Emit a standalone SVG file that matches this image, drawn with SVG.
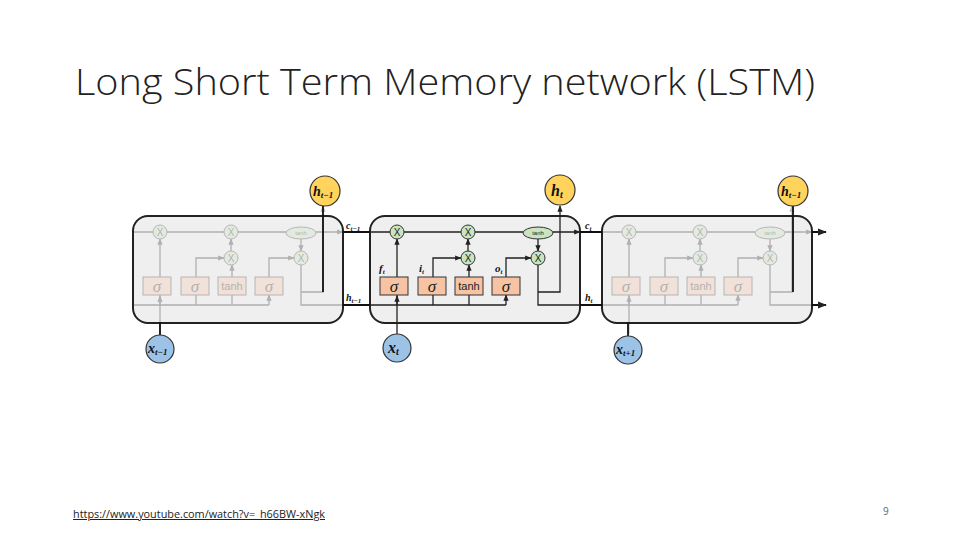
<svg xmlns="http://www.w3.org/2000/svg" xmlns:xlink="http://www.w3.org/1999/xlink" width="960" height="540" viewBox="0 0 960 540">
<style>
.cell{fill:#efefef;stroke:#222;stroke-width:2}
.ln{fill:none;stroke:#222;stroke-width:1.3}
.bold{fill:none;stroke:#111;stroke-width:1.8}
.x{fill:#c9e4bf;stroke:#333;stroke-width:1}
.gate{fill:#f6c4a4;stroke:#333;stroke-width:1}
.xt{font-family:"Liberation Sans",sans-serif;font-size:10px;fill:#222}
.sig{font-family:"Liberation Serif",serif;font-style:italic;font-size:17px;fill:#222}
.th{font-family:"Liberation Sans",sans-serif;font-size:11px;fill:#222}
.m{font-family:"Liberation Serif",serif;font-style:italic;font-weight:bold;fill:#111}
.h{fill:#ffd35c;stroke:#333;stroke-width:1.2}
.in{fill:#9cc3e6;stroke:#333;stroke-width:1.2}
</style>
<defs>
<marker id="a" viewBox="0 0 10 10" refX="9" refY="5" markerWidth="5" markerHeight="5" orient="auto"><path d="M0 1L10 5L0 9z" fill="#222"/></marker>
<g id="inner">
<path class="ln" d="M0 232H20M34 232H91M105 232H153M183 232H210" marker-end="url(#a)"/>
<path class="ln" d="M27 277V239" marker-end="url(#a)"/>
<path class="ln" d="M63 277V258H91" marker-end="url(#a)"/>
<path class="ln" d="M99 277V265" marker-end="url(#a)"/>
<path class="ln" d="M98 251V239" marker-end="url(#a)"/>
<path class="ln" d="M136 277V258H161" marker-end="url(#a)"/>
<path class="ln" d="M168 238V251" marker-end="url(#a)"/>
<path class="ln" d="M168 265V305H210M168 292H190V206" marker-end="url(#a)"/>
<path class="ln" d="M0 305H136M27 305V295M63 305V295M99 305V295M136 305V295" marker-end="url(#a)"/>
<path class="ln" d="M27 334V296" marker-end="url(#a)"/>
<circle class="x" cx="27" cy="232" r="7"/><text class="xt" x="27" y="236" text-anchor="middle">X</text>
<circle class="x" cx="98" cy="232" r="7"/><text class="xt" x="98" y="236" text-anchor="middle">X</text>
<ellipse class="x" cx="168" cy="233" rx="15" ry="6"/><text x="168" y="235" text-anchor="middle" style="font-family:'Liberation Sans',sans-serif;font-size:6px;fill:#222">tanh</text>
<circle class="x" cx="98" cy="258" r="7"/><text class="xt" x="98" y="262" text-anchor="middle">X</text>
<circle class="x" cx="168" cy="258" r="7"/><text class="xt" x="168" y="262" text-anchor="middle">X</text>
<rect class="gate" x="10" y="277" width="28" height="18"/><text class="sig" x="24" y="292" text-anchor="middle">σ</text>
<rect class="gate" x="48" y="277" width="28" height="18"/><text class="sig" x="62" y="292" text-anchor="middle">σ</text>
<rect class="gate" x="85" y="277" width="28" height="18"/><text class="th" x="99" y="290" text-anchor="middle">tanh</text>
<rect class="gate" x="122" y="277" width="28" height="18"/><text class="sig" x="136" y="292" text-anchor="middle">σ</text>
</g>
</defs>
<text x="75" y="95" textLength="740" lengthAdjust="spacingAndGlyphs" style="font-family:'Open Sans',sans-serif;font-size:36px;font-weight:300;fill:#222">Long Short Term Memory network (LSTM)</text>

<g id="cell-left">
<rect class="cell" x="133" y="216" width="210" height="107" rx="15"/>
<use xlink:href="#inner" href="#inner" x="133" opacity="0.3"/>
</g>
<g id="cell-mid">
<rect class="cell" x="370" y="216" width="210" height="107" rx="15"/>
<use xlink:href="#inner" href="#inner" x="370"/>
<text class="m" x="379" y="272" font-size="11">f<tspan font-size="7" dy="2">t</tspan></text>
<text class="m" x="419" y="272" font-size="11">i<tspan font-size="7" dy="2">t</tspan></text>
<text class="m" x="495" y="272" font-size="11">o<tspan font-size="7" dy="2">t</tspan></text>
</g>
<g id="cell-right">
<rect class="cell" x="602" y="216" width="210" height="107" rx="15"/>
<use xlink:href="#inner" href="#inner" x="602" opacity="0.3"/>
</g>

<g id="connectors">
<path class="bold" d="M343 232H370M580 232H602M812 232H826" marker-end="url(#a)"/>
<path class="bold" d="M343 305H370M580 305H602M812 305H826" marker-end="url(#a)"/>
<path class="bold" d="M323 292V206M160 336V322M793 292V206M628 336V322"/>
</g>

<g id="labels">
<text class="m" x="346" y="229" font-size="10">c<tspan font-size="7" dy="2">t−1</tspan></text>
<text class="m" x="346" y="301" font-size="10">h<tspan font-size="7" dy="2">t−1</tspan></text>
<text class="m" x="585" y="229" font-size="10">c<tspan font-size="7" dy="2">t</tspan></text>
<text class="m" x="585" y="301" font-size="10">h<tspan font-size="7" dy="2">t</tspan></text>
</g>

<g id="h-prev"><circle class="h" cx="325" cy="191" r="15"/><text class="m" x="313" y="196" font-size="14">h<tspan font-size="9" dy="2">t−1</tspan></text></g>
<g id="h-t"><circle class="h" cx="560" cy="190" r="15"/><text class="m" x="551" y="196" font-size="16">h<tspan font-size="10" dy="2">t</tspan></text></g>
<g id="h-next"><circle class="h" cx="793" cy="191" r="15"/><text class="m" x="781" y="196" font-size="14">h<tspan font-size="9" dy="2">t−1</tspan></text></g>
<g id="x-prev"><circle class="in" cx="160" cy="349" r="14"/><text class="m" x="148" y="353" font-size="14">x<tspan font-size="9" dy="2">t−1</tspan></text></g>
<g id="x-t"><circle class="in" cx="397" cy="348" r="14"/><text class="m" x="388" y="353" font-size="16">x<tspan font-size="10" dy="2">t</tspan></text></g>
<g id="x-next"><circle class="in" cx="628" cy="350" r="14"/><text class="m" x="616" y="354" font-size="14">x<tspan font-size="9" dy="2">t+1</tspan></text></g>

<text x="73" y="518" textLength="252" lengthAdjust="spacingAndGlyphs" style="font-family:'Open Sans',sans-serif;font-size:10px;fill:#222;text-decoration:underline">https://www.youtube.com/watch?v=_h66BW-xNgk</text>
<text x="883" y="515" style="font-family:'Open Sans',sans-serif;font-size:10px;fill:#666">9</text>
</svg>
